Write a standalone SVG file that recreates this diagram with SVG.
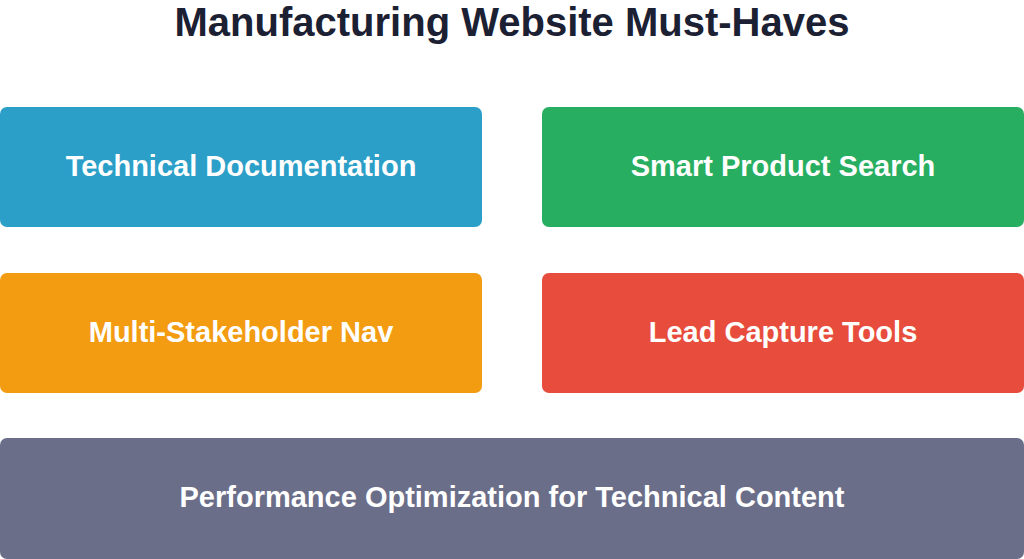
<svg xmlns="http://www.w3.org/2000/svg" width="1024" height="559" viewBox="0 0 1024 559">
<style>
.t{font-family:"Liberation Sans",Arial,sans-serif;font-weight:bold;fill:#fff;font-size:29px;text-anchor:middle;dominant-baseline:central}
.h{font-family:"Liberation Sans",Arial,sans-serif;font-weight:bold;fill:#1c2033;font-size:40px;text-anchor:middle}
</style>
<rect width="1024" height="559" fill="#fff"/>
<text class="h" x="512" y="36">Manufacturing Website Must-Haves</text>
<g id="n1"><rect x="0" y="107" width="482" height="120" rx="7" fill="#2b9fc8"/><text class="t" x="241" y="166">Technical Documentation</text></g>
<g id="n2"><rect x="542" y="107" width="482" height="120" rx="7" fill="#27ae60"/><text class="t" x="783" y="166">Smart Product Search</text></g>
<g id="n3"><rect x="0" y="273" width="482" height="120" rx="7" fill="#f39c12"/><text class="t" x="241" y="332">Multi-Stakeholder Nav</text></g>
<g id="n4"><rect x="542" y="273" width="482" height="120" rx="7" fill="#e74c3c"/><text class="t" x="783" y="332">Lead Capture Tools</text></g>
<g id="n5"><rect x="0" y="438" width="1024" height="121" rx="7" fill="#6b6e89"/><text class="t" x="512" y="497">Performance Optimization for Technical Content</text></g>
<g id="connectors"/>
</svg>
